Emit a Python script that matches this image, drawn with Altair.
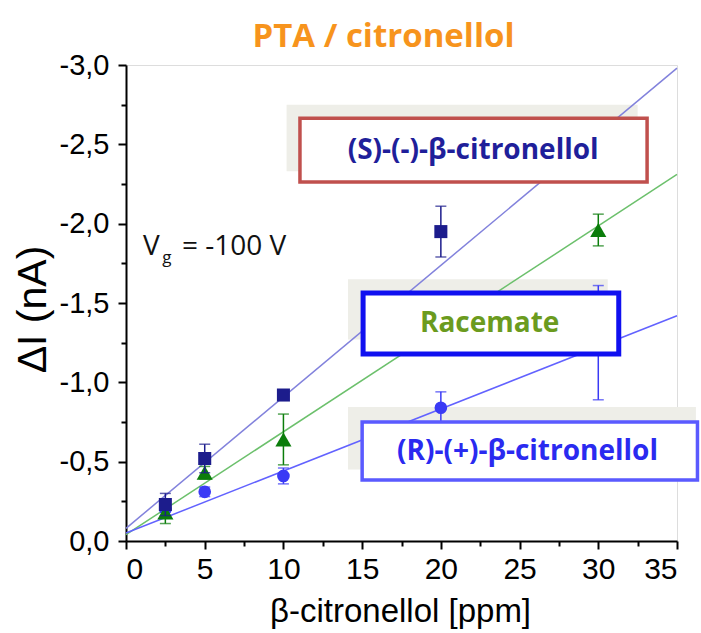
import altair as alt
import pandas as pd

# ---------------- data ----------------
conc_S = [2.5, 5, 10, 20]
dI_S = [-0.23, -0.52, -0.92, -1.95]
err_S = [0.07, 0.09, 0.03, 0.16]

conc_rac = [2.5, 5, 10, 30]
dI_rac = [-0.18, -0.43, -0.64, -1.96]
err_rac = [0.07, 0.04, 0.16, 0.10]

conc_R = [2.5, 5, 10, 20, 30]
dI_R = [-0.20, -0.31, -0.41, -0.84, -1.25]
err_R = [0.04, 0.03, 0.05, 0.10, 0.36]

fit_x = [0, 35]
fit_S = [-0.08, -2.98]
fit_rac = [-0.04, -2.31]
fit_R = [-0.05, -1.42]

x_ticks = [0, 2.5, 5, 7.5, 10, 12.5, 15, 17.5, 20, 22.5, 25, 27.5, 30, 32.5, 35]
y_ticks = [-3.0, -2.75, -2.5, -2.25, -2.0, -1.75, -1.5, -1.25, -1.0, -0.75, -0.5, -0.25, 0.0]

label_S = "(S)-(-)-β-citronellol"
label_rac = "Racemate"
label_R = "(R)-(+)-β-citronellol"

# colours
C_S_pt, C_S_ln, C_S_tx = "#1c1c8c", "#8282dc", "#1f1f9a"
C_rac_pt, C_rac_ln, C_rac_tx = "#0b7d0b", "#6cc06c", "#6b9b1e"
C_R_pt, C_R_ln, C_R_tx = "#3a3af5", "#6262ff", "#2a2af0"

def series_df(x, y, e):
    d = pd.DataFrame({"x": x, "y": y, "e": e})
    d["lo"] = d["y"] - d["e"]
    d["hi"] = d["y"] + d["e"]
    return d

dS = series_df(conc_S, dI_S, err_S)
dRac = series_df(conc_rac, dI_rac, err_rac)
dR = series_df(conc_R, dI_R, err_R)

xscale = alt.Scale(domain=[0, 35], nice=False, zero=False)
yscale = alt.Scale(domain=[-3, 0], nice=False, zero=False, reverse=True)

FONT = "Liberation Sans"
MAJ_Y = "abs(datum.value*2 - round(datum.value*2)) < 0.001"

xaxis = alt.Axis(
    values=x_ticks,
    labelExpr="datum.value % 5 == 0 ? format(datum.value, 'd') : ''",
    tickSize={"condition": {"test": "datum.value % 5 == 0", "value": 8}, "value": 5},
    grid=False, domainColor="black", domainWidth=2, tickColor="black", tickWidth=2,
    labelFont=FONT, labelFontSize=30, labelColor="black", labelPadding=5,
    title="β-citronellol [ppm]", titleFont=FONT, titleFontSize=33, titleFontWeight="normal",
    titleColor="black", titleX=274, titleY=80, titleBaseline="alphabetic", titleAlign="center",
)
yaxis = alt.Axis(
    values=y_ticks,
    labelExpr=MAJ_Y + " ? replace(replace(format(datum.value, '.1f'), '.', ','), '\u2212', '-') : ''",
    tickSize={"condition": {"test": MAJ_Y, "value": 8}, "value": 5},
    grid=False, domainColor="black", domainWidth=2, tickColor="black", tickWidth=2,
    labelFont=FONT, labelFontSize=29, labelColor="black", labelPadding=9,
    title="ΔI (nA)", titleFont=FONT, titleFontSize=41, titleFontWeight="normal",
    titleColor="black", titleX=-93, titleY=244, titleAngle=-90, titleBaseline="middle", titleAlign="center",
)

base_x = alt.X("x:Q", scale=xscale, axis=xaxis)
base_y = alt.Y("y:Q", scale=yscale, axis=yaxis)

layers = []

# ---- annotation geometry (data units) ----
boxes = pd.DataFrame({
    "name": ["S", "rac", "R"],
    "sx": [10.2, 14.1, 14.1], "sx2": [32.5, 30.6, 36.2],
    "sy": [-2.75, -1.65, -0.845], "sy2": [-2.33, -1.27, -0.45],
    "fx": [11.05, 15.06, 15.0], "fx2": [33.1, 31.3, 36.3],
    "fy": [-2.665, -1.563, -0.75], "fy2": [-2.262, -1.178, -0.384],
    "tx": [22.05, 23.1, 25.5], "ty": [-2.46, -1.37, -0.56],
    "label": [label_S, label_rac, label_R],
})

# shadows (underneath lines)
shadow = alt.Chart(boxes).mark_rect(color="#eeeee8", clip=False).encode(
    x=alt.X("sx:Q", scale=xscale, axis=xaxis), x2="sx2:Q",
    y=alt.Y("sy:Q", scale=yscale, axis=yaxis), y2="sy2:Q",
)
layers.append(shadow)

# fit lines
for fy, col in [(fit_S, C_S_ln), (fit_rac, C_rac_ln), (fit_R, C_R_ln)]:
    d = pd.DataFrame({"x": fit_x, "y": fy})
    layers.append(alt.Chart(d).mark_line(color=col, strokeWidth=1.5).encode(x=base_x, y=base_y))

# error bars + markers
for d, col, shape, size in [
    (dR, C_R_pt, "circle", 160),
    (dRac, C_rac_pt, "triangle-up", 260),
    (dS, C_S_pt, "square", 170),
]:
    layers.append(alt.Chart(d).mark_rule(color=col, strokeWidth=1.5).encode(
        x=base_x, y=alt.Y("lo:Q", scale=yscale, axis=yaxis), y2="hi:Q"))
    layers.append(alt.Chart(d).mark_tick(color=col, thickness=1.5, size=11, orient="horizontal").encode(
        x=base_x, y=alt.Y("lo:Q", scale=yscale, axis=yaxis)))
    layers.append(alt.Chart(d).mark_tick(color=col, thickness=1.5, size=11, orient="horizontal").encode(
        x=base_x, y=alt.Y("hi:Q", scale=yscale, axis=yaxis)))
    layers.append(alt.Chart(d).mark_point(shape=shape, filled=True, opacity=1, color=col, size=size).encode(
        x=base_x, y=base_y))

# framed label boxes
for i, (fcol, sw, tcol) in enumerate([("#c0504d", 3.5, C_S_tx), ("#1010f0", 5, C_rac_tx), ("#5a5aff", 3.5, C_R_tx)]):
    b = boxes.iloc[[i]]
    layers.append(alt.Chart(b).mark_rect(fill="white", stroke=fcol, strokeWidth=sw, clip=False).encode(
        x=alt.X("fx:Q", scale=xscale, axis=xaxis), x2="fx2:Q",
        y=alt.Y("fy:Q", scale=yscale, axis=yaxis), y2="fy2:Q"))
    layers.append(alt.Chart(b).mark_text(font="Open Sans", fontWeight="bold", fontSize=28, color=tcol,
                                         align="center", baseline="middle").encode(
        x=alt.X("tx:Q", scale=xscale, axis=xaxis), y=alt.Y("ty:Q", scale=yscale, axis=yaxis), text="label:N"))

# V_g annotation
vg = pd.DataFrame({
    "x": [1.08, 2.3, 3.55], "y": [-1.80, -1.75, -1.80],
    "t": ["V", "g", "= -100 V"], "fs": [28, 17, 28],
})
layers.append(alt.Chart(vg).mark_text(font="Open Sans", color="#111111", align="left", baseline="alphabetic").encode(
    x=base_x, y=base_y, text="t:N", size=alt.Size("fs:Q", scale=None, legend=None)))

chart = alt.layer(*layers).properties(
    width=551, height=476,
    title=alt.TitleParams("PTA / citronellol", font="Open Sans", fontSize=33, fontWeight="bold",
                          color="#f7941d", anchor="middle", dx=-18, offset=-3),
    autosize=alt.AutoSizeParams(type="none"),
    padding={"left": 126, "top": 65, "right": 24, "bottom": 92},
).configure_view(stroke="black", strokeWidth=2).configure(background="white")

chart.save("out.html", embed_options={"renderer": "svg", "actions": False})
